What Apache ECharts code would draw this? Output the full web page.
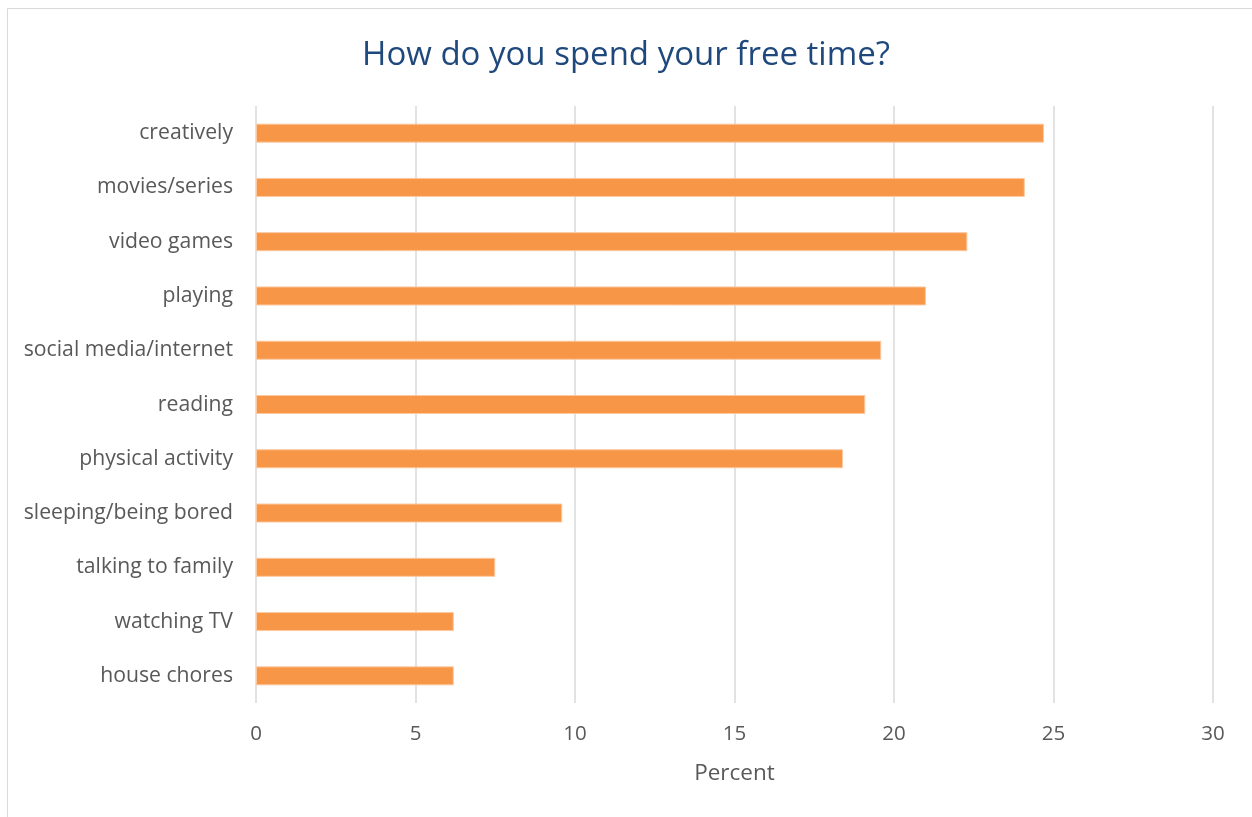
<!DOCTYPE html>
<html>
<head>
<meta charset="utf-8">
<script src="https://cdn.jsdelivr.net/npm/echarts@6/dist/echarts.min.js"></script>
<style>
  html, body { margin: 0; padding: 0; background: #fff; }
  #chart { width: 1252px; height: 817px; }
</style>
</head>
<body>
<div id="chart"></div>
<script>
// Activities, bottom to top as the category axis draws them
const activities = [
  'house chores', 'watching TV', 'talking to family', 'sleeping/being bored',
  'physical activity', 'reading', 'social media/internet', 'playing',
  'video games', 'movies/series', 'creatively'
];
// Share of respondents, percent
const percents = [6.2, 6.2, 7.5, 9.6, 18.4, 19.1, 19.6, 21.0, 22.3, 24.1, 24.7];
const xTicks = [0, 5, 10, 15, 20, 25, 30];

const FONT = '"Open Sans", "Noto Sans", sans-serif';
const chart = echarts.init(document.getElementById('chart'));
chart.setOption({
  backgroundColor: '#fff',
  animation: false,
  graphic: [{
    type: 'rect',
    shape: { x: 7.5, y: 8.5, width: 1260, height: 820 },
    style: { fill: 'none', stroke: '#d9d9d9', lineWidth: 1 },
    silent: true
  }],
  title: {
    text: 'How do you spend your free time?',
    left: 'center',
    top: 34,
    textStyle: { fontFamily: FONT, fontSize: 33, fontWeight: 'normal', color: '#1f497d' }
  },
  grid: { left: 256, right: 39, top: 106, bottom: 114, containLabel: false },
  xAxis: {
    type: 'value',
    min: xTicks[0],
    max: xTicks[xTicks.length - 1],
    interval: 5,
    name: 'Percent',
    nameLocation: 'middle',
    nameGap: 59,
    nameTextStyle: { fontFamily: FONT, fontSize: 22.5, color: '#595959' },
    axisLine: { show: false },
    axisTick: { show: false },
    axisLabel: { fontFamily: FONT, fontSize: 20.5, color: '#595959', margin: 21 },
    splitLine: { lineStyle: { color: '#d9d9d9', width: 1.5 } }
  },
  yAxis: {
    type: 'category',
    data: activities,
    axisLine: { show: false },
    axisTick: { show: false },
    axisLabel: { fontFamily: FONT, fontSize: 21.2, color: '#595959', margin: 23, padding: [4, 0, 0, 0] }
  },
  series: [{
    type: 'bar',
    data: percents,
    barWidth: 19,
    itemStyle: { color: '#f79646', borderColor: '#fbc89f', borderWidth: 1 }
  }]
});
</script>
</body>
</html>
